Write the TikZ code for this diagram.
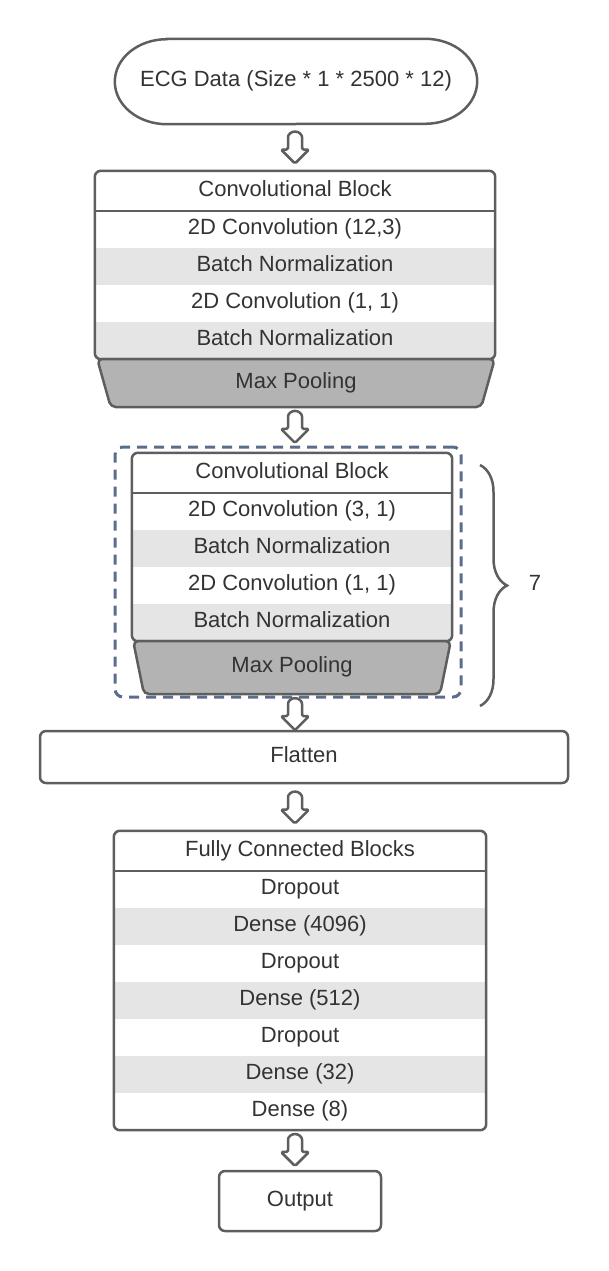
\documentclass[tikz,border=0pt]{standalone}
\usepackage{fontspec}
\setmainfont{Liberation Sans}
\usepackage{tikz}
\usetikzlibrary{shapes.geometric}
\usetikzlibrary{decorations.pathreplacing}
\usetikzlibrary{calc}

\definecolor{linegrey}{HTML}{5E5E5E}
\definecolor{textgrey}{HTML}{333333}
\definecolor{rowgrey}{HTML}{E5E5E5}
\definecolor{poolgrey}{HTML}{B3B3B3}
\definecolor{dashblue}{HTML}{5A6E8C}

\tikzset{
  txt/.style={font=\fontsize{22}{26}\selectfont, text=textgrey, text height=15.75pt, text depth=5pt},
  cell/.style={txt, minimum width=#1, minimum height=37pt, inner sep=0pt},
  head/.style={txt, minimum width=#1, minimum height=40pt, inner sep=0pt},
  shaded/.style={fill=rowgrey},
  frame/.style={draw=linegrey, line width=2.5pt, rounded corners=6pt},
  sepline/.style={draw=linegrey, line width=2.5pt},
  pool/.style={trapezium, trapezium angle=78, shape border rotate=180, trapezium stretches=true,
    draw=linegrey, fill=poolgrey, line width=2.5pt, rounded corners=5pt, txt, inner sep=0pt},
  plainbox/.style={txt, draw=linegrey, line width=2.5pt, rounded corners=6pt, inner sep=0pt},
  repeatbox/.style={draw=dashblue, line width=3pt, dash pattern=on 10pt off 7pt, rounded corners=8pt, inner sep=0pt},
  arrowline/.style={draw=linegrey, line width=2.5pt, fill=white, rounded corners=1.5pt, line join=round},
  bracket/.style={draw=linegrey, line width=2.5pt, decorate, decoration={brace, amplitude=27pt}},
}

% block arrow half way between two nodes, on the spine
\newcommand{\stepArrow}[2]{%
  \path ($(#1.south)!0.5!(#2.north)$) coordinate (mid);
  \draw[arrowline, shift={(spine |- mid)}] (-7,-2) -- (-7,9) arc[start angle=180, end angle=0, radius=7]
    -- (7,-2) -- (14,-2) -- (0,-16) -- (-14,-2) -- cycle;
}

\begin{document}
\begin{tikzpicture}[x=1pt, y=1pt]
  \useasboundingbox (0,0) rectangle (609,-1271);
  \coordinate (spine) at (295,0);

  % input
  \node[txt, minimum width=362, minimum height=85, inner sep=0pt] (ecg) at (296,-81.5) {ECG Data (Size * 1 * 2500 * 12)};
  \draw[sepline] ([xshift=52pt]ecg.north west) -- ([xshift=-52pt]ecg.north east)
    arc[start angle=90, end angle=-90, x radius=52pt, y radius=42.5pt]
    -- ([xshift=52pt]ecg.south west)
    arc[start angle=270, end angle=90, x radius=52pt, y radius=42.5pt] -- cycle;

  % first convolutional block
  \node[head=400] (c1h) at (295,-191) {Convolutional Block};
  \node[cell=400] (c1a) at (295,-229.5) {2D Convolution (12,3)};
  \node[cell=400, shaded] (c1b) at (295,-266.5) {Batch Normalization};
  \node[cell=400] (c1c) at (295,-303.5) {2D Convolution (1, 1)};
  \node[cell=400, shaded] (c1d) at (295,-340.5) {Batch Normalization};
  \draw[frame] (c1h.north west) rectangle (c1d.south east);
  \draw[sepline] (c1h.south west) -- (c1h.south east);
  \node[pool, minimum width=398, minimum height=48] (p1) at (296,-383) {Max Pooling};

  % repeated convolutional block
  \node[repeatbox, minimum width=346, minimum height=250] (rep) at (288,-572) {};
  \node[head=320] (c2h) at (292,-473) {Convolutional Block};
  \node[cell=320] (c2a) at (292,-511.5) {2D Convolution (3, 1)};
  \node[cell=320, shaded] (c2b) at (292,-548.5) {Batch Normalization};
  \node[cell=320] (c2c) at (292,-585.5) {2D Convolution (1, 1)};
  \node[cell=320, shaded] (c2d) at (292,-622.5) {Batch Normalization};
  \draw[frame] (c2h.north west) rectangle (c2d.south east);
  \draw[sepline] (c2h.south west) -- (c2h.south east);
  \node[pool, minimum width=318, minimum height=53] (p2) at (292,-667.5) {Max Pooling};

  \coordinate (braceTop) at (480,-465);
  \coordinate (braceBot) at (480,-706);
  \draw[bracket] (braceTop) -- (braceBot);
  \node[txt] (times) at (535,-585) {7};

  % flatten
  \node[plainbox, minimum width=528, minimum height=52] (flat) at (304,-757) {Flatten};

  % fully connected part
  \node[head=372] (fch) at (300,-851) {Fully Connected Blocks};
  \node[cell=372] (fa) at (300,-889.5) {Dropout};
  \node[cell=372, shaded] (fb) at (300,-926.5) {Dense (4096)};
  \node[cell=372] (fc) at (300,-963.5) {Dropout};
  \node[cell=372, shaded] (fd) at (300,-1000.5) {Dense (512)};
  \node[cell=372] (fe) at (300,-1037.5) {Dropout};
  \node[cell=372, shaded] (ff) at (300,-1074.5) {Dense (32)};
  \node[cell=372] (fg) at (300,-1111.5) {Dense (8)};
  \draw[frame] (fch.north west) rectangle (fg.south east);
  \draw[sepline] (fch.south west) -- (fch.south east);

  \node[plainbox, minimum width=162, minimum height=60] (out) at (300,-1201) {Output};

  % arrows
  \stepArrow{ecg}{c1h}
  \stepArrow{p1}{rep}
  \stepArrow{rep}{flat}
  \stepArrow{flat}{fch}
  \stepArrow{fg}{out}
\end{tikzpicture}
\end{document}
